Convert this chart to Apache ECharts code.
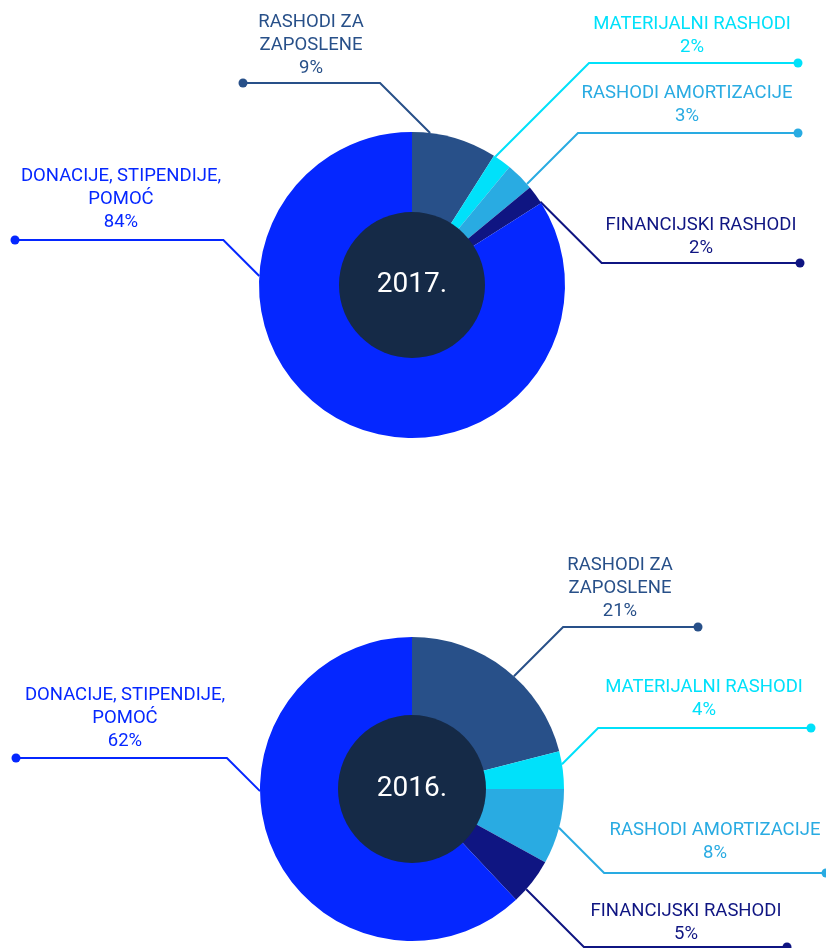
<!DOCTYPE html>
<html><head><meta charset="utf-8">
<script src="https://cdn.jsdelivr.net/npm/echarts@6/dist/echarts.min.js"></script>
<style>html,body{margin:0;padding:0;background:#fff}#c{width:826px;height:948px}</style>
</head><body><div id="c"></div>
<script>
// ---- data ----
const categories = ['RASHODI ZA\nZAPOSLENE', 'MATERIJALNI RASHODI', 'RASHODI AMORTIZACIJE', 'FINANCIJSKI RASHODI', 'DONACIJE, STIPENDIJE,\nPOMOĆ'];
const values2017 = [9, 2, 3, 2, 84];
const values2016 = [21, 4, 8, 5, 62];
const years = ['2017.', '2016.'];
const colors = ['#285089', '#00e1fa', '#29abe2', '#0f1582', '#0527ff'];

// ---- layout (label line anchors / label placement) ----
const layout2017 = { center: [412, 285], r: 153, hole: 73, items: [
  { a: 6.8,   ly: 83,  ex: 243, lx: 311, dl: 15 },
  { a: 33,    ly: 63,  ex: 798, lx: 692, dl: 16 },
  { a: 48.7,  ly: 133, ex: 798, lx: 687, dl: 17 },
  { a: 57,    ly: 263, ex: 800, lx: 701, dl: 15 },
  { a: 273.4, ly: 240, ex: 15,  lx: 121, dl: 18 }
]};
const layout2016 = { center: [412, 789], r: 152, hole: 74, items: [
  { a: 42.1,  ly: 627, ex: 698, lx: 620, dl: 16 },
  { a: 80.6,  ly: 728, ex: 811, lx: 704, dl: 18 },
  { a: 104.8, ly: 873, ex: 826, lx: 715, dl: 20 },
  { a: 131.3, ly: 947, ex: 787, lx: 686, dl: 13 },
  { a: 269.2, ly: 758, ex: 16,  lx: 125, dl: 17 }
]};

const FONT = 'Roboto';
const LH = 23;

function linePts(L, it) {
  const rad = it.a * Math.PI / 180;
  const sx = L.center[0] + L.r * Math.sin(rad);
  const sy = L.center[1] - L.r * Math.cos(rad);
  const dir = Math.sign(it.ex - sx);
  const bx = sx + dir * Math.abs(it.ly - sy);
  return [[sx, sy], [bx, it.ly], [it.ex, it.ly]];
}

function buildSeries(values, year, L) {
  const data = values.map((v, i) => ({
    value: v, name: categories[i],
    itemStyle: { color: colors[i] },
    label: { color: colors[i] }
  }));
  const rich = {};
  colors.forEach((c, i) => { rich['c' + i] = { width: 9, height: 9, borderRadius: 4.5, backgroundColor: c }; });
  return [
    {
      type: 'pie', center: L.center, radius: [0, L.r], startAngle: 90, clockwise: true,
      avoidLabelOverlap: false, silent: true, animation: false,
      itemStyle: { borderWidth: 0 },
      label: {
        show: true, position: 'outside', fontFamily: FONT, fontSize: 18.5, lineHeight: LH,
        formatter: p => p.name + '\n' + p.value + '%'
      },
      labelLine: { show: true, smooth: false, length: 10, length2: 10, lineStyle: { width: 2 } },
      labelLayout: p => {
        const it = L.items[p.dataIndex];
        return {
          x: it.lx, y: it.ly - it.dl + LH / 2, align: 'center', verticalAlign: 'bottom',
          labelLinePoints: linePts(L, it)
        };
      },
      data
    },
    {
      type: 'pie', center: L.center, radius: [0, L.r], startAngle: 90, clockwise: true,
      avoidLabelOverlap: false, silent: true, animation: false,
      itemStyle: { color: 'rgba(0,0,0,0)' },
      label: { show: true, position: 'outside', formatter: p => '{c' + p.dataIndex + '|}', rich },
      labelLine: { show: false },
      labelLayout: p => {
        const it = L.items[p.dataIndex];
        return { x: it.ex, y: it.ly, align: 'center', verticalAlign: 'middle' };
      },
      data: values.map((v, i) => ({ value: v, name: categories[i] }))
    },
    {
      type: 'pie', center: L.center, radius: [0, L.hole], silent: true, animation: false,
      itemStyle: { color: '#152a47' },
      label: { show: true, position: 'center', formatter: year, color: '#ffffff', fontFamily: FONT, fontSize: 28, padding: [6, 0, 0, 0] },
      labelLine: { show: false },
      data: [{ value: 1, name: year }]
    }
  ];
}

const chart = echarts.init(document.getElementById('c'), null, { renderer: 'canvas' });
chart.setOption({
  backgroundColor: '#ffffff',
  animation: false,
  series: [].concat(buildSeries(values2017, years[0], layout2017), buildSeries(values2016, years[1], layout2016))
});
</script>
</body></html>
